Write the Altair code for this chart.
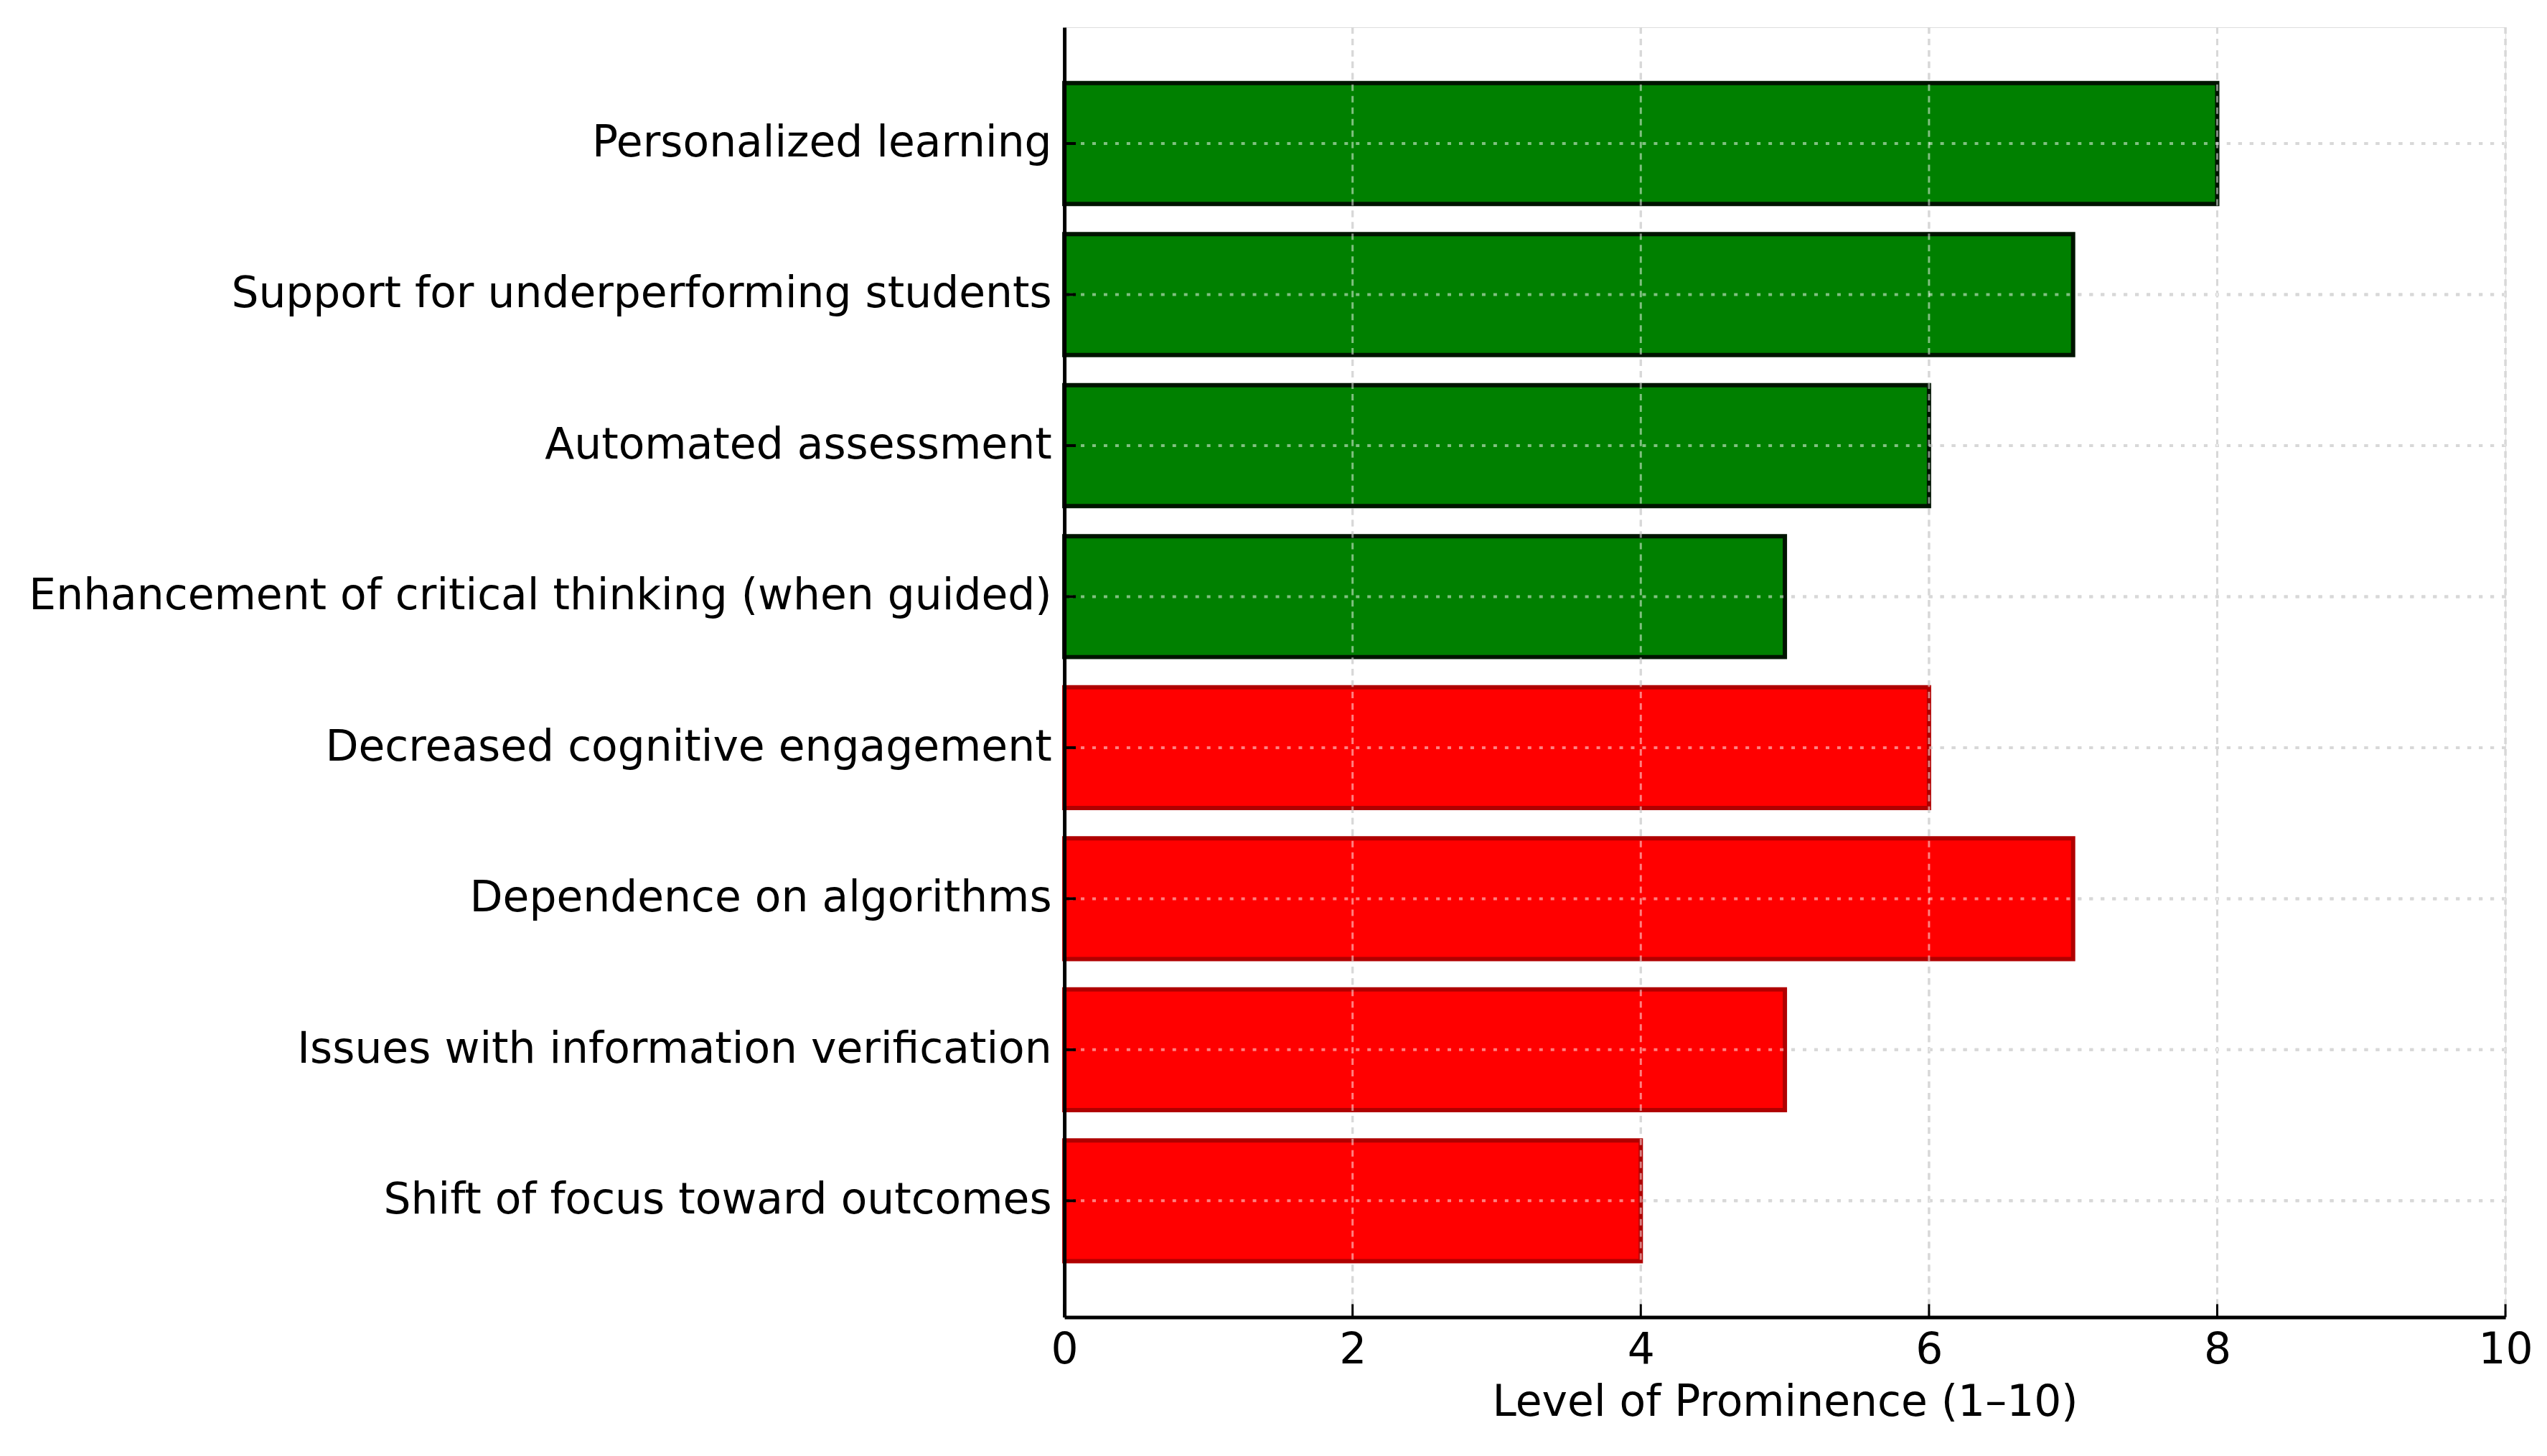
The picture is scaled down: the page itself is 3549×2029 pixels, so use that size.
import altair as alt
import pandas as pd

categories = [
    "Personalized learning",
    "Support for underperforming students",
    "Automated assessment",
    "Enhancement of critical thinking (when guided)",
    "Decreased cognitive engagement",
    "Dependence on algorithms",
    "Issues with information verification",
    "Shift of focus toward outcomes",
]
values = [8, 7, 6, 5, 6, 7, 5, 4]
groups = ["Benefit", "Benefit", "Benefit", "Benefit", "Risk", "Risk", "Risk", "Risk"]
x_ticks = [0, 2, 4, 6, 8, 10]
x_title = "Level of Prominence (1–10)"

df = pd.DataFrame({"category": categories, "value": values, "group": groups})
ticks_df = pd.DataFrame({"t": x_ticks})
grid_df = ticks_df[ticks_df["t"] > 0]

W, H = 2012, 1801
FONT = "DejaVu Sans"

xscale = alt.Scale(domain=[0, 10], nice=False, zero=True)
yscale = alt.Scale(domain=categories, paddingInner=0.2, paddingOuter=0.37)

x_enc = alt.X(
    "value:Q",
    scale=xscale,
    axis=alt.Axis(
        values=x_ticks,
        format="d",
        title=x_title,
        labelFont=FONT, labelFontSize=60, labelColor="black",
        titleFont=FONT, titleFontSize=60, titleFontWeight="normal", titleColor="black",
        ticks=False, grid=False, domainColor="black", domainWidth=5,
        labelPadding=17, titlePadding=14, labelFlush=False, zindex=1,
    ),
)
y_enc = alt.Y(
    "category:N",
    scale=yscale,
    sort=categories,
    axis=alt.Axis(
        title=None,
        labelFont=FONT, labelFontSize=60, labelColor="black",
        ticks=False, grid=False, domainColor="black", domainWidth=5,
        labelPadding=18, labelLimit=3000, zindex=1,
    ),
)

# gray grid beneath bars
vgrid = alt.Chart(grid_df).mark_rule(color="#b0b0b0", strokeWidth=3, strokeDash=[9, 7]).encode(
    x=alt.X("t:Q", scale=xscale)
)
hgrid = alt.Chart(df).mark_rule(color="#b0b0b0", strokeWidth=4, strokeDash=[5, 11]).encode(
    y=alt.Y("category:N", scale=yscale, sort=categories)
)

bars = alt.Chart(df).mark_bar(strokeWidth=6).encode(
    x=x_enc,
    y=y_enc,
    color=alt.Color("group:N", scale=alt.Scale(domain=["Benefit", "Risk"], range=["#008000", "#ff0000"]), legend=None),
    stroke=alt.Stroke("group:N", scale=alt.Scale(domain=["Benefit", "Risk"], range=["#001400", "#b00000"]), legend=None),
)

# light grid drawn over bars (invisible over white background)
vgrid_top = alt.Chart(grid_df).mark_rule(color="white", opacity=0.5, strokeWidth=3, strokeDash=[9, 7]).encode(
    x=alt.X("t:Q", scale=xscale)
)
hgrid_top = alt.Chart(df).mark_rule(color="white", opacity=0.5, strokeWidth=4, strokeDash=[5, 11]).encode(
    y=alt.Y("category:N", scale=yscale, sort=categories)
)

# inward tick marks
xticks = alt.Chart(ticks_df).mark_rule(color="black", strokeWidth=3).encode(
    x=alt.X("t:Q", scale=xscale), y=alt.value(H), y2=alt.value(H - 18)
)
yticks = alt.Chart(df).mark_rule(color="black", strokeWidth=4).encode(
    y=alt.Y("category:N", scale=yscale, sort=categories), x=alt.value(0), x2=alt.value(16)
)

chart = alt.layer(vgrid, hgrid, bars, vgrid_top, hgrid_top, xticks, yticks).properties(
    width=W,
    height=H,
    autosize=alt.AutoSizeParams(type="none"),
    padding={"left": 1478, "top": 28, "right": 50, "bottom": 200},
).configure_view(strokeWidth=0).configure(background="white")

chart.save("out.html", embed_options={"renderer": "svg", "actions": False})
